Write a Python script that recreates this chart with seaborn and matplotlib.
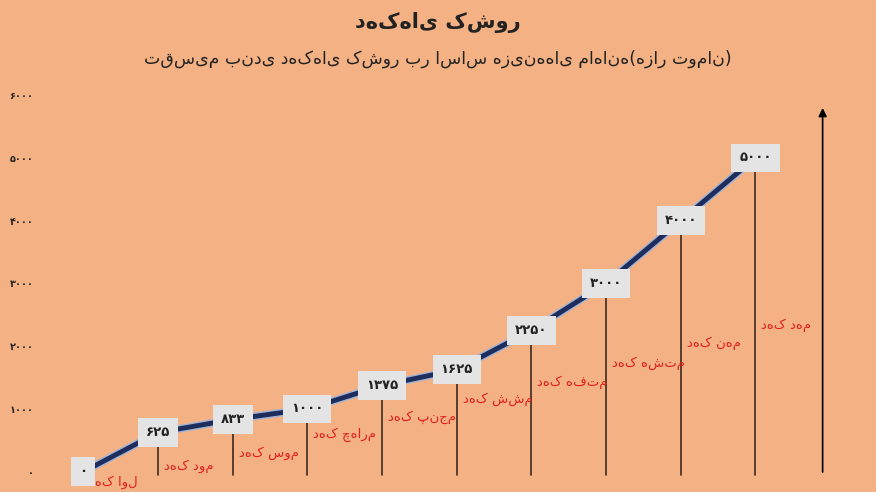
import matplotlib
matplotlib.use("Agg")
import matplotlib.pyplot as plt
import matplotlib.patheffects as pe
import seaborn as sns
import pandas as pd

try:
    import arabic_reshaper
    from bidi.algorithm import get_display
    def fa(s):
        return get_display(arabic_reshaper.reshape(s))
except Exception:
    def fa(s):
        return s

deciles = ["دهک اول", "دهک دوم", "دهک سوم", "دهک چهارم", "دهک پنجم",
           "دهک ششم", "دهک هفتم", "دهک هشتم", "دهک نهم", "دهک دهم"]
values = [0, 625, 833, 1000, 1375, 1625, 2250, 3000, 4000, 5000]
value_labels = ["۰", "۶۲۵", "۸۳۳", "۱۰۰۰", "۱۳۷۵", "۱۶۲۵", "۲۲۵۰", "۳۰۰۰", "۴۰۰۰", "۵۰۰۰"]
label_y = [-160, 80, 300, 590, 875, 1150, 1430, 1735, 2050, 2340]
yticks = [0, 1000, 2000, 3000, 4000, 5000, 6000]
ytick_labels = ["۰", "۱۰۰۰", "۲۰۰۰", "۳۰۰۰", "۴۰۰۰", "۵۰۰۰", "۶۰۰۰"]
title = "دهک‌های کشور"
subtitle = "تقسیم بندی دهک‌های کشور بر اساس هزینه‌های ماهانه(هزار تومان)"

bg = "#f4b183"
sns.set_theme(style="white")
plt.rcParams["font.family"] = ["DejaVu Sans"]

fig = plt.figure(figsize=(8.76, 4.92), dpi=100, facecolor=bg)
ax = fig.add_axes([0.07, 0.035, 0.91, 0.78])
ax.set_facecolor(bg)

df = pd.DataFrame({"x": range(len(values)), "y": values})
sns.lineplot(data=df, x="x", y="y", ax=ax, color="#1f2d5c", lw=3.5,
             path_effects=[pe.Stroke(linewidth=5.5, foreground="#9fb3d8"), pe.Normal()])

ymin = -50
for i, (v, t) in enumerate(zip(values, value_labels)):
    if i > 0:
        ax.plot([i, i], [ymin, v], color="#3a2a20", lw=1.2, zorder=1, clip_on=False)
    ax.text(i, v, t, ha="center", va="center", fontsize=9.5, fontweight="bold",
            color="#222222", zorder=5, clip_on=False,
            bbox=dict(boxstyle="square,pad=0.6", fc="#e4e4e4", ec="none"))
    ax.text(i + 0.08, label_y[i], fa(deciles[i]), ha="left", va="center",
            fontsize=9.5, color="#e0201a", zorder=4, clip_on=False)

ax.annotate("", xy=(9.9, 5840), xytext=(9.9, ymin),
            arrowprops=dict(arrowstyle="-|>", color="black", lw=1.2), annotation_clip=False)

ax.set_xlim(-0.295, 10.38)
ax.set_ylim(-48, 6066)
ax.set_yticks(yticks)
ax.set_yticklabels(ytick_labels, fontsize=7, fontweight="bold")
ax.tick_params(axis="y", length=0, pad=20)
ax.set_xticks([])
ax.set_xlabel("")
ax.set_ylabel("")
for s in ax.spines.values():
    s.set_visible(False)

fig.text(0.5, 0.955, fa(title), ha="center", va="center", fontsize=15, fontweight="bold", color="#222222")
fig.text(0.5, 0.88, fa(subtitle), ha="center", va="center", fontsize=12.5, color="#222222")

fig.savefig("out.png", dpi=100, facecolor=bg)
